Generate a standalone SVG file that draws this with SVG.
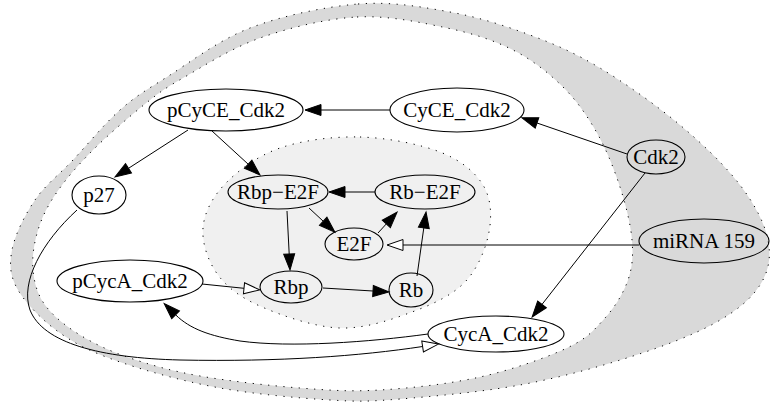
<svg xmlns="http://www.w3.org/2000/svg" width="770" height="403" viewBox="0 0 770 403">
<style>
.cl{stroke:#000;stroke-width:1;stroke-dasharray:1.2 6.5}
.nd ellipse{fill:none;stroke:#000;stroke-width:1.1}
.nd text{font-family:"Liberation Serif","Times New Roman",serif;font-size:21px;text-anchor:middle;fill:#000}
.ed path{fill:none;stroke:#000;stroke-width:1}
</style>
<defs>
<marker id="af" viewBox="0 -6 17 12" refX="0" refY="0" markerWidth="17" markerHeight="12" markerUnits="userSpaceOnUse" orient="auto" overflow="visible"><path d="M0,-5.5 L16,0 L0,5.5 Z" fill="#000" stroke="#000" stroke-width="1"/></marker>
<marker id="ah" viewBox="0 -6 17 12" refX="0" refY="0" markerWidth="17" markerHeight="12" markerUnits="userSpaceOnUse" orient="auto" overflow="visible"><path d="M0,-5.5 L16,0 L0,5.5 Z" fill="#fff" stroke="#000" stroke-width="1"/></marker>
</defs>
<rect width="770" height="403" fill="#fff"/>
<g id="clusters">
<path id="cluster-outer" class="cl" fill="#d9d9d9" d="M358,4 C391.3,1.3 421.3,6.8 450,12 C478.7,17.2 505,25.7 530,35 C555,44.3 575,53 600,68 C625,83 656.7,105.5 680,125 C703.3,144.5 725.3,165.8 740,185 C754.7,204.2 764.7,223.3 768,240 C771.3,256.7 768.8,271.2 760,285 C751.2,298.8 736.7,311 715,323 C693.3,335 662.5,346.7 630,357 C597.5,367.3 558.3,378 520,385 C481.7,392 431.7,396.5 400,399 C368.3,401.5 360,401.8 330,400 C300,398.2 255,394.3 220,388 C185,381.7 146.7,371.2 120,362 C93.3,352.8 77,345 60,333 C43,321 26,303.8 18,290 C10,276.2 9.2,265 12,250 C14.8,235 24.8,215 35,200 C45.2,185 58.8,175 73,160 C87.2,145 104.3,123.8 120,110 C135.7,96.2 145.3,90.7 167,77 C188.7,63.3 218.2,40.2 250,28 C281.8,15.8 324.7,6.7 358,4 Z"/>
<path id="cluster-inner" class="cl" fill="#fff" d="M357,17 C388.2,15.3 421,22.5 447,28 C473,33.5 493.7,40.2 513,50 C532.3,59.8 549,73.2 563,87 C577,100.8 587.5,116.3 597,133 C606.5,149.7 614.2,169.2 620,187 C625.8,204.8 630.7,224.5 632,240 C633.3,255.5 632.5,267 628,280 C623.5,293 615.2,306.7 605,318 C594.8,329.3 587.8,338.2 567,348 C546.2,357.8 511.2,370 480,377 C448.8,384 410,388.2 380,390 C350,391.8 330,390.3 300,388 C270,385.7 228.3,381 200,376 C171.7,371 150,364.8 130,358 C110,351.2 94.2,343.8 80,335 C65.8,326.2 52.8,315.8 45,305 C37.2,294.2 34.2,282.5 33,270 C31.8,257.5 34,243 38,230 C42,217 47.8,205.3 57,192 C66.2,178.7 78.3,164.7 93,150 C107.7,135.3 130,116 145,104 C160,92 163.8,89 183,78 C202.2,67 231,48.2 260,38 C289,27.8 325.8,18.7 357,17 Z"/>
<path id="cluster-rb" class="cl" fill="#f0f0f0" d="M360,137 C386.7,137.7 419.5,144 440,152 C460.5,160 474.8,171.7 483,185 C491.2,198.3 492,215.8 489,232 C486,248.2 477.8,268.7 465,282 C452.2,295.3 432.8,304.3 412,312 C391.2,319.7 365,328.8 340,328 C315,327.2 282.3,315.8 262,307 C241.7,298.2 227.8,288.2 218,275 C208.2,261.8 201.8,243.2 203,228 C204.2,212.8 212.2,197.3 225,184 C237.8,170.7 257.5,155.8 280,148 C302.5,140.2 333.3,136.3 360,137 Z"/>
</g>
<g id="edges" class="ed">
<path d="M390,110 L321,110" marker-end="url(#af)"/>
<path d="M627,154 L537,123" marker-end="url(#af)"/>
<path d="M645,173 L542,304.4" marker-end="url(#af)"/>
<path d="M188,130 L128.5,168.3" marker-end="url(#af)"/>
<path d="M212,131 L248.2,164.2" marker-end="url(#af)"/>
<path d="M375,192 L345,192" marker-end="url(#af)"/>
<path d="M309,208 L323.2,221.2" marker-end="url(#af)"/>
<path d="M378,233 L386.3,223.9" marker-end="url(#af)"/>
<path d="M287,211 L289.2,254" marker-end="url(#af)"/>
<path d="M323,288 L373,291" marker-end="url(#af)"/>
<path d="M417,276 L423.8,227.9" marker-end="url(#af)"/>
<path d="M639,245 L403,245" marker-end="url(#ah)"/>
<path d="M202,284 L244,288.3" marker-end="url(#ah)"/>
<path d="M428,334 C370,342 290,348 240,341 C210,336 190,329 175.6,314.8" marker-end="url(#af)"/>
<path d="M77,210 C42,242 20,282 30,310 C43,343 100,358 180,360 C280,362 360,356 422.6,346.5" marker-end="url(#ah)"/>
</g>
<g id="node-pCyCE_Cdk2" class="nd"><ellipse cx="226" cy="110" rx="77" ry="21"/><text x="226" y="117">pCyCE_Cdk2</text></g>
<g id="node-CyCE_Cdk2" class="nd"><ellipse cx="457" cy="110" rx="67" ry="22"/><text x="457" y="117">CyCE_Cdk2</text></g>
<g id="node-Cdk2" class="nd"><ellipse cx="656" cy="157" rx="29" ry="17"/><text x="656" y="164">Cdk2</text></g>
<g id="node-p27" class="nd"><ellipse cx="99" cy="195" rx="27" ry="19"/><text x="99" y="202">p27</text></g>
<g id="node-Rbp-E2F" class="nd"><ellipse cx="278" cy="192" rx="50" ry="17"/><text x="278" y="199">Rbp−E2F</text></g>
<g id="node-Rb-E2F" class="nd"><ellipse cx="425" cy="192" rx="50" ry="17"/><text x="425" y="199">Rb−E2F</text></g>
<g id="node-E2F" class="nd"><ellipse cx="354" cy="244" rx="29" ry="16"/><text x="354" y="251">E2F</text></g>
<g id="node-miRNA159" class="nd"><ellipse cx="704" cy="241" rx="65" ry="22"/><text x="704" y="248">miRNA 159</text></g>
<g id="node-pCycA_Cdk2" class="nd"><ellipse cx="130" cy="281" rx="73" ry="21"/><text x="130" y="288">pCycA_Cdk2</text></g>
<g id="node-Rbp" class="nd"><ellipse cx="291" cy="287" rx="31" ry="16"/><text x="291" y="294">Rbp</text></g>
<g id="node-Rb" class="nd"><ellipse cx="411" cy="290" rx="22" ry="17"/><text x="411" y="297">Rb</text></g>
<g id="node-CycA_Cdk2" class="nd"><ellipse cx="496" cy="334" rx="68" ry="18"/><text x="496" y="341">CycA_Cdk2</text></g>
</svg>
